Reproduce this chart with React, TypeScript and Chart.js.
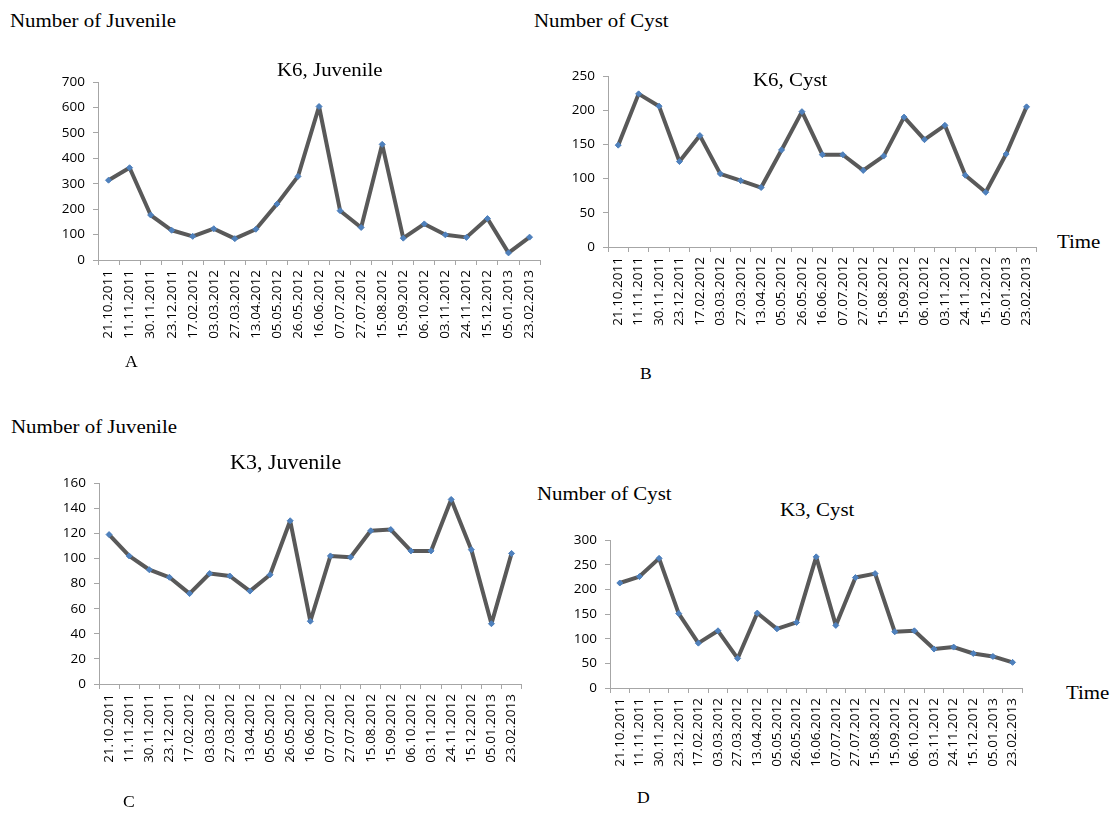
import React, { useEffect, useRef } from "react";
import { Chart, registerables } from "chart.js";

Chart.register(...registerables);

const dates = [
  "21.10.2011", "11.11.2011", "30.11.2011", "23.12.2011", "17.02.2012", "03.03.2012",
  "27.03.2012", "13.04.2012", "05.05.2012", "26.05.2012", "16.06.2012", "07.07.2012",
  "27.07.2012", "15.08.2012", "15.09.2012", "06.10.2012", "03.11.2012", "24.11.2012",
  "15.12.2012", "05.01.2013", "23.02.2013",
];

const k6Juvenile = [314, 363, 177, 117, 93, 123, 84, 121, 220, 329, 604, 194, 128, 455, 86, 142, 99, 89, 163, 28, 90];
const k6Cyst = [149, 224, 206, 125, 163, 107, 97, 87, 142, 198, 135, 135, 112, 133, 190, 157, 178, 105, 80, 136, 205];
const k3Juvenile = [119, 102, 91, 85, 72, 88, 86, 74, 87, 130, 50, 102, 101, 122, 123, 106, 106, 147, 107, 48, 104];
const k3Cyst = [213, 226, 263, 151, 91, 116, 60, 152, 120, 133, 266, 127, 224, 232, 114, 116, 79, 83, 70, 64, 52];

const yMaxes = [700, 250, 160, 300];
const ySteps = [100, 50, 20, 50];

const AXIS = "#a6a6a6";
const LINE = "#595959";
const MARK = "#4f81bd";
const TICKFONT = { family: "'Open Sans', 'Liberation Sans', sans-serif", size: 13.5 };

const PADL = 50;
const PADT = 10;
const PADR = 10;
const XH = 100;

type PanelProps = { values: number[]; max: number; step: number; x0: number; x1: number; y0: number; y1: number };

function Panel({ values, max, step, x0, x1, y0, y1 }: PanelProps) {
  const ref = useRef<HTMLCanvasElement>(null);
  const w = x1 - x0 + PADL + PADR;
  const h = y1 - y0 + PADT + XH;
  useEffect(() => {
    const chart = new Chart(ref.current as HTMLCanvasElement, {
      type: "line",
      data: {
        labels: dates,
        datasets: [
          {
            data: values,
            borderColor: LINE,
            borderWidth: 4,
            borderJoinStyle: "round",
            borderCapStyle: "round",
            tension: 0,
            pointStyle: "rectRot",
            pointRadius: 3,
            pointBackgroundColor: MARK,
            pointBorderColor: MARK,
            pointBorderWidth: 1,
          },
        ],
      },
      options: {
        animation: false,
        responsive: false,
        devicePixelRatio: 1,
        layout: { padding: { left: 0, top: PADT, right: PADR, bottom: 0 } },
        plugins: { legend: { display: false }, tooltip: { enabled: false }, title: { display: false } },
        scales: {
          x: {
            type: "category",
            offset: true,
            grid: { offset: true, drawOnChartArea: false, drawTicks: true, tickLength: 5, color: AXIS },
            border: { color: AXIS, width: 1 },
            ticks: { autoSkip: false, maxRotation: 90, minRotation: 90, padding: 5, color: "#000", font: TICKFONT },
            afterFit: (s: any) => {
              s.height = XH;
            },
          },
          y: {
            min: 0,
            max,
            grid: { drawOnChartArea: false, drawTicks: true, tickLength: 5, color: AXIS },
            border: { color: AXIS, width: 1 },
            ticks: { stepSize: step, padding: 8, color: "#000", font: TICKFONT },
            afterFit: (s: any) => {
              s.width = PADL;
            },
          },
        },
      },
    } as any);
    return () => chart.destroy();
  }, []);
  return (
    <canvas
      ref={ref}
      width={w}
      height={h}
      style={{ position: "absolute", left: x0 - PADL, top: y0 - PADT, width: w, height: h }}
    />
  );
}

type TextProps = { text: string; left: number; top: number; size?: number };

function Label({ text, left, top, size = 19 }: TextProps) {
  return (
    <div
      style={{
        position: "absolute",
        left,
        top,
        fontFamily: "'Liberation Serif', 'Times New Roman', serif",
        fontSize: size,
        lineHeight: 1,
        whiteSpace: "nowrap",
        color: "#000",
        transform: "scaleX(1.1)",
        transformOrigin: "left top",
      }}
    >
      {text}
    </div>
  );
}

export default function App() {
  return (
    <div style={{ position: "absolute", left: 0, top: 0, width: 1110, height: 816, background: "#fff", overflow: "hidden" }}>
      <Panel values={k6Juvenile} max={yMaxes[0]} step={ySteps[0]} x0={98} x1={541} y0={76} y1={260} />
      <Panel values={k6Cyst} max={yMaxes[1]} step={ySteps[1]} x0={608} x1={1038} y0={70} y1={247} />
      <Panel values={k3Juvenile} max={yMaxes[2]} step={ySteps[2]} x0={99} x1={523} y0={477} y1={684} />
      <Panel values={k3Cyst} max={yMaxes[3]} step={ySteps[3]} x0={610} x1={1024} y0={534} y1={688} />

      <Label text="Number of Juvenile" left={10} top={11} />
      <Label text="Number of Cyst" left={534} top={11} />
      <Label text="K6, Juvenile" left={277} top={60} />
      <Label text="K6, Cyst" left={753} top={70} />
      <Label text="Time" left={1057} top={232} />
      <Label text="A" left={125} top={354} size={16} />
      <Label text="B" left={640} top={366} size={16} />

      <Label text="Number of Juvenile" left={11} top={417} />
      <Label text="K3, Juvenile" left={230} top={452} size={20} />
      <Label text="Number of Cyst" left={537} top={484} />
      <Label text="K3, Cyst" left={780} top={500} />
      <Label text="Time" left={1066} top={683} />
      <Label text="C" left={123} top={794} size={16} />
      <Label text="D" left={637} top={790} size={16} />
    </div>
  );
}
